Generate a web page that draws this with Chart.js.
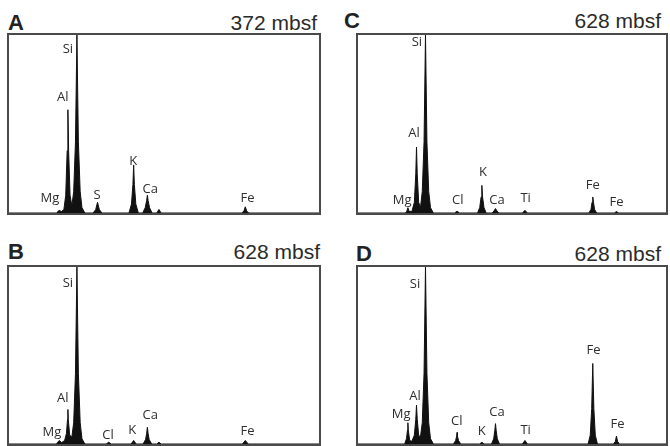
<!DOCTYPE html>
<html>
<head>
<meta charset="utf-8">
<script src="https://cdn.jsdelivr.net/npm/chart.js@4/dist/chart.umd.min.js"></script>
<style>
  body { margin: 0; background: #fff; }
  #wrap { position: relative; width: 670px; height: 446px; overflow: hidden; font-family: "Liberation Sans", Arial, sans-serif; color: #222; }
  .panel { position: absolute; box-sizing: border-box; border: 2px solid #4a4a4a; }
  .panel canvas { display: block; }
  .tag { position: absolute; font-size: 22px; font-weight: bold; line-height: 1; }
  .depth { position: absolute; font-size: 21px; line-height: 1; text-align: right; color: #2a2a2a; }
</style>
</head>
<body>
<div id="wrap">
  <div class="tag" style="left:8px;top:12px">A</div>
  <div class="depth" style="right:353px;top:12px">372 mbsf</div>
  <div class="panel" style="left:7px;top:33px;width:314px;height:182px"><canvas id="specA" width="310" height="178"></canvas></div>

  <div class="tag" style="left:344px;top:10px">C</div>
  <div class="depth" style="right:9px;top:10px">628 mbsf</div>
  <div class="panel" style="left:356px;top:33px;width:312px;height:182px"><canvas id="specC" width="308" height="178"></canvas></div>

  <div class="tag" style="left:8px;top:241px">B</div>
  <div class="depth" style="right:350px;top:241px">628 mbsf</div>
  <div class="panel" style="left:7px;top:265px;width:314px;height:181px"><canvas id="specB" width="310" height="177"></canvas></div>

  <div class="tag" style="left:356px;top:243px">D</div>
  <div class="depth" style="right:9px;top:243px">628 mbsf</div>
  <div class="panel" style="left:356px;top:265px;width:312px;height:181px"><canvas id="specD" width="308" height="177"></canvas></div>
</div>
<script>
// EDS spectra: [energy keV, counts as % of the Si peak]
const spectrumA = [
  [-0.14,0],[1.17,0],[1.25,1.5],[1.31,0.8],[1.38,2],[1.43,10],[1.47,35],[1.49,58],[1.51,35],[1.55,10],
  [1.60,4],[1.65,12],[1.70,40],[1.74,100],[1.78,40],[1.83,12],[1.88,3],[1.96,0],
  [2.19,0],[2.26,2],[2.31,6],[2.36,2],[2.43,0],
  [3.18,0],[3.25,5],[3.29,16],[3.31,27],[3.33,16],[3.37,5],[3.44,0],
  [3.56,0],[3.63,3],[3.67,7],[3.69,10],[3.71,7],[3.75,3],[3.82,0],
  [3.95,0],[4.01,2],[4.07,0],
  [6.30,0],[6.36,1],[6.40,3.5],[6.44,1],[6.50,0],[8.44,0]
];
const spectrumB = [
  [-0.14,0],[1.17,0],[1.25,2],[1.32,0.8],[1.40,2],[1.45,6],[1.48,14],[1.49,19.5],[1.50,14],[1.54,5],
  [1.60,4],[1.65,12],[1.70,40],[1.74,100],[1.78,40],[1.83,12],[1.88,3],[1.96,0],
  [2.55,0],[2.62,1],[2.69,0],
  [3.24,0],[3.31,2],[3.38,0],
  [3.57,0],[3.64,2.5],[3.67,6],[3.69,9.5],[3.71,6],[3.74,2.5],[3.81,0],
  [3.95,0],[4.01,1],[4.07,0],
  [6.32,0],[6.40,2],[6.48,0],[8.44,0]
];
const spectrumC = [
  [-0.14,0],[1.18,0],[1.22,1],[1.25,3],[1.28,1],[1.36,0.8],[1.43,6],[1.47,22],[1.49,37],[1.51,22],[1.55,6],
  [1.60,3],[1.65,12],[1.70,40],[1.74,100],[1.78,40],[1.83,12],[1.88,3],[1.96,0],
  [2.55,0],[2.62,1],[2.69,0],
  [3.19,0],[3.25,3],[3.29,9],[3.31,15.5],[3.33,9],[3.37,3],[3.43,0],
  [3.60,0],[3.65,1.2],[3.69,2.5],[3.73,1.2],[3.78,0],
  [4.44,0],[4.51,1.5],[4.58,0],
  [6.29,0],[6.35,2],[6.38,6],[6.40,9],[6.42,6],[6.45,2],[6.51,0],
  [7.00,0],[7.06,0.8],[7.12,0],[8.44,0]
];
const spectrumD = [
  [-0.14,0],[1.16,0],[1.21,3],[1.24,8],[1.25,12],[1.26,8],[1.30,2],[1.36,1.5],[1.43,5],[1.47,14],[1.49,22],[1.51,14],[1.55,5],
  [1.60,4],[1.65,12],[1.70,40],[1.74,100],[1.78,40],[1.83,12],[1.88,3],[1.96,0],
  [2.52,0],[2.58,2],[2.61,4.5],[2.62,6.5],[2.63,4.5],[2.66,2],[2.72,0],
  [3.25,0],[3.31,1],[3.37,0],
  [3.58,0],[3.64,3],[3.67,7.5],[3.69,11.5],[3.71,7.5],[3.74,3],[3.80,0],
  [4.44,0],[4.51,2],[4.58,0],
  [6.27,0],[6.33,5],[6.37,20],[6.40,45.5],[6.43,20],[6.47,5],[6.53,0],
  [6.98,0],[7.03,1.5],[7.06,4.5],[7.09,1.5],[7.14,0],[8.44,0]
];

// element labels: [text, keV, counts]
const labelsA = [["Si",1.49,92],["Al",1.35,65],["Mg",0.99,8],["S",2.30,10],["K",3.30,29],["Ca",3.77,13.5],["Fe",6.46,8]];
const labelsB = [["Si",1.49,91],["Al",1.35,26],["Mg",1.05,6.5],["Cl",2.60,4.8],["K",3.27,8],["Ca",3.77,16],["Fe",6.46,7]];
const labelsC = [["Si",1.50,96],["Al",1.42,45],["Mg",1.09,7],["Cl",2.64,7],["K",3.34,23],["Ca",3.73,7],["Ti",4.53,8],["Fe",6.40,15.5],["Fe",7.06,6]];
const labelsD = [["Si",1.45,90],["Al",1.45,27],["Mg",1.06,16.5],["Cl",2.61,13],["K",3.31,7],["Ca",3.73,18],["Ti",4.53,7.5],["Fe",6.42,53],["Fe",7.09,11]];

const keVMin = -0.14, keVMax = 8.44;

const peakLabels = {
  id: 'peakLabels',
  afterDatasetsDraw(chart, args, opts) {
    const ctx = chart.ctx;
    const xs = chart.scales.x, ys = chart.scales.y;
    ctx.save();
    ctx.font = '13px "Open Sans", sans-serif';
    ctx.fillStyle = '#2e2e2e';
    ctx.textAlign = 'center';
    ctx.textBaseline = 'middle';
    for (const l of opts.items) {
      ctx.fillText(l[0], xs.getPixelForValue(l[1]), ys.getPixelForValue(l[2]));
    }
    ctx.restore();
  }
};

function drawSpectrum(id, spec, labels) {
  new Chart(document.getElementById(id), {
    type: 'line',
    data: {
      datasets: [{
        data: spec.map(p => ({x: p[0], y: p[1]})),
        borderColor: '#111',
        backgroundColor: '#111',
        borderWidth: 1,
        fill: 'origin',
        pointRadius: 0,
        tension: 0
      }]
    },
    options: {
      responsive: false,
      animation: false,
      layout: { padding: 0 },
      scales: {
        x: { type: 'linear', min: keVMin, max: keVMax, display: false },
        y: { min: 0, max: 100, display: false }
      },
      plugins: {
        legend: { display: false },
        tooltip: { enabled: false },
        peakLabels: { items: labels }
      }
    },
    plugins: [peakLabels]
  });
}

drawSpectrum('specA', spectrumA, labelsA);
drawSpectrum('specB', spectrumB, labelsB);
drawSpectrum('specC', spectrumC, labelsC);
drawSpectrum('specD', spectrumD, labelsD);
</script>
</body>
</html>
